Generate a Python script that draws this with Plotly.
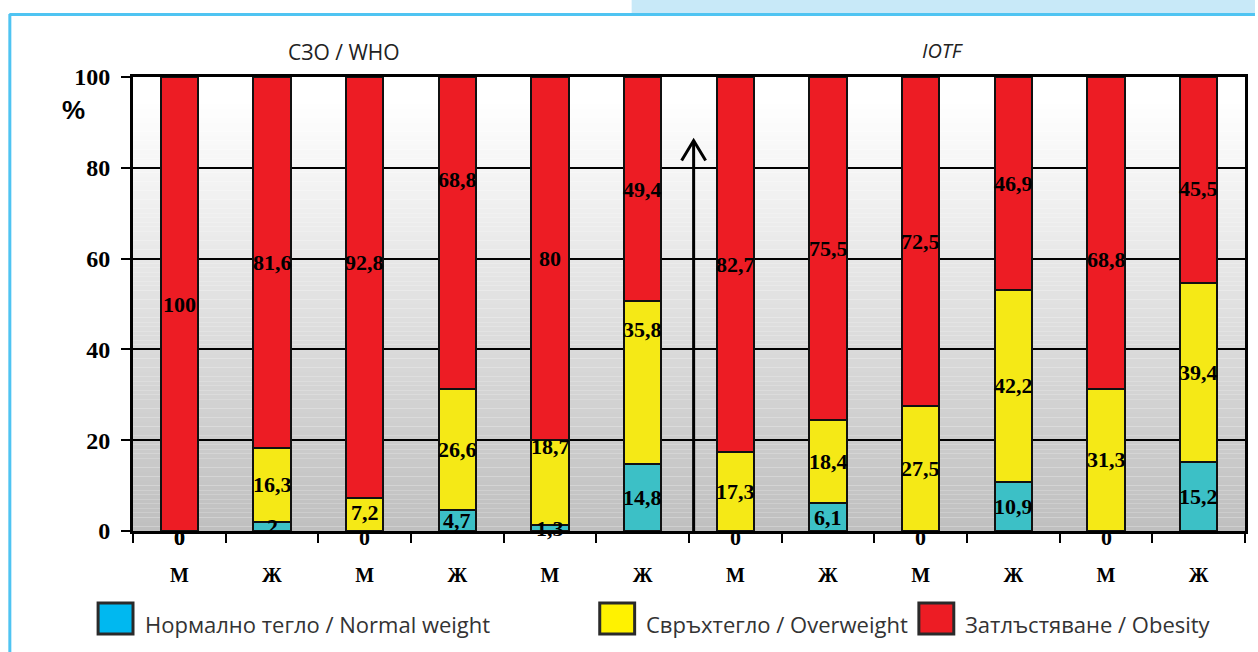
import plotly.graph_objects as go

# Sex categories for each column (WHO block, then IOTF block)
categories = ["М", "Ж", "М", "Ж", "М", "Ж", "М", "Ж", "М", "Ж", "М", "Ж"]

# Percentages per column
normal_weight = [0, 2, 0, 4.7, 1.3, 14.8, 0, 6.1, 0, 10.9, 0, 15.2]
overweight = [0, 16.3, 7.2, 26.6, 18.7, 35.8, 17.3, 18.4, 27.5, 42.2, 31.3, 39.4]
obesity = [100, 81.6, 92.8, 68.8, 80, 49.4, 82.7, 75.5, 72.5, 46.9, 68.8, 45.5]

y_ticks = [0, 20, 40, 60, 80, 100]

series_names = [
    "Нормално тегло / Normal weight",
    "Свръхтегло / Overweight",
    "Затлъстяване / Obesity",
]

BAR_COLORS = ["#3cc0c6", "#f5e916", "#ed1c24"]
LEGEND_COLORS = ["#00b8f0", "#fff200", "#ed1c24"]
SERIF = "Liberation Serif"
SANS = "Open Sans"

x = list(range(len(categories)))
series = [normal_weight, overweight, obesity]

fig = go.Figure()
for name, vals, col in zip(series_names, series, BAR_COLORS):
    fig.add_trace(go.Bar(
        x=x, y=vals, name=name, width=0.4,
        marker=dict(color=col, line=dict(color="#111111", width=2)),
        showlegend=False, hoverinfo="skip",
    ))

# Label nudges in pixels (series index, column) for a few hand-placed labels
nudges = {(2, 2): 25, (2, 3): 53, (1, 5): 53, (1, 4): 36, (2, 10): -27, (2, 11): -9,
          (1, 2): 2}

def fmt(v):
    return f"{v:g}".replace(".", ",")

base = [0.0] * len(x)
annotations = []
for si, vals in enumerate(series):
    for i, v in enumerate(vals):
        mid = base[i] + v / 2.0
        shift = nudges.get((si, i), 0)
        if v == 0:
            shift = -6
        annotations.append(dict(
            x=i, y=mid, xref="x", yref="y", text=f"<b>{fmt(v)}</b>", showarrow=False,
            yshift=shift, font=dict(family=SERIF, size=22, color="#000000"),
        ))
        base[i] += v

# Gradient plot background built from thin horizontal bands
shapes = []
n_bands = 100
for k in range(n_bands):
    y0 = 100 * k / n_bands
    y1 = 100 * (k + 1) / n_bands
    t = (y0 + y1) / 2 / 100
    frac = max(0.0, min(1.0, (0.95 - t) / 0.95))
    g = int(round(255 - (255 - 191) * frac))
    shapes.append(dict(type="rect", xref="paper", yref="y", x0=0, x1=1, y0=y0, y1=y1,
                       fillcolor=f"rgb({g},{g},{g})", line=dict(width=0), layer="below"))

# Divider arrow between the two classification blocks
shapes.append(dict(type="line", xref="x", yref="y", x0=5.55, x1=5.55, y0=0, y1=86,
                   line=dict(color="#000000", width=3)))
shapes.append(dict(type="path", xref="x", yref="y", xsizemode="pixel", ysizemode="pixel",
                   xanchor=5.55, yanchor=86, path="M -12,-20 L 0,0 L 12,-20",
                   line=dict(color="#000000", width=3)))

# Page geometry helpers (pixel -> paper)
W, H = 1258, 652
ML, MR, MT, MB = 133, 10, 77, 121
PW, PH = W - ML - MR, H - MT - MB

def px_x(p):
    return (p - ML) / PW

def px_y(p):
    return (H - MB - p) / PH

# Page frame and header tab
frame = [
    dict(type="rect", xref="paper", yref="paper", x0=px_x(633), x1=px_x(1258),
         y0=px_y(14), y1=px_y(0), fillcolor="#c8e9f8", line=dict(width=0)),
    dict(type="line", xref="paper", yref="paper", x0=px_x(9), x1=px_x(1258),
         y0=px_y(14.5), y1=px_y(14.5), line=dict(color="#4fc4f2", width=3)),
    dict(type="line", xref="paper", yref="paper", x0=px_x(9.5), x1=px_x(9.5),
         y0=px_y(652), y1=px_y(14), line=dict(color="#4fc4f2", width=3)),
]

# Legend drawn as boxes with captions
legend_items = [(97, 143), (600, 645), (920, 965)]
legend_shapes = []
for (bx, tx), col, name in zip(legend_items, LEGEND_COLORS, series_names):
    legend_shapes.append(dict(type="rect", xref="paper", yref="paper",
                              x0=px_x(bx + 1), x1=px_x(bx + 36), y0=px_y(634), y1=px_y(603),
                              fillcolor=col, line=dict(color="#2a2a2a", width=3)))
    annotations.append(dict(xref="paper", yref="paper", x=px_x(tx), y=px_y(624),
                            xanchor="left", yanchor="middle", text=name, showarrow=False,
                            font=dict(family=SANS, size=22, color="#333333")))

# Block titles and axis unit
annotations.append(dict(xref="paper", yref="paper", x=px_x(345), y=px_y(52),
                        xanchor="center", yanchor="middle",
                        text="СЗО / WHO", showarrow=False,
                        font=dict(family=SANS, size=21, color="#222222")))
annotations.append(dict(xref="paper", yref="paper", x=px_x(945), y=px_y(50),
                        xanchor="center", yanchor="middle",
                        text="<i>IOTF</i>", showarrow=False,
                        font=dict(family=SANS, size=20, color="#222222")))
annotations.append(dict(xref="paper", yref="paper", x=px_x(73), y=px_y(110),
                        xanchor="center", yanchor="middle",
                        text="<b>%</b>", showarrow=False,
                        font=dict(family="Liberation Sans", size=26, color="#000000")))

fig.update_layout(
    shapes=shapes + frame + legend_shapes,
    annotations=annotations,
    barmode="stack",
    width=W, height=H,
    margin=dict(l=ML, r=MR, t=MT, b=MB, pad=0),
    paper_bgcolor="#ffffff",
    plot_bgcolor="#ffffff",
    showlegend=False,
    xaxis=dict(
        range=[-0.5, 11.5], tickvals=x, ticktext=[f"<b>{c}</b>" for c in categories],
        ticks="", showgrid=False, zeroline=False,
        showline=True, linecolor="#000000", linewidth=3, mirror=True,
        tickfont=dict(family=SERIF, size=20, color="#000000"),
        ticklabelstandoff=24,
        minor=dict(tick0=-0.5, dtick=1, ticks="outside", ticklen=9, tickwidth=2,
                   tickcolor="#000000", showgrid=False),
    ),
    yaxis=dict(
        range=[0, 100], tickvals=y_ticks, ticktext=[f"<b>{v}</b>" for v in y_ticks],
        ticks="outside", ticklen=9, tickwidth=2, tickcolor="#000000",
        showgrid=True, gridcolor="#000000", gridwidth=2, zeroline=False,
        showline=True, linecolor="#000000", linewidth=3, mirror=True,
        tickfont=dict(family=SERIF, size=24, color="#000000"),
        ticklabelstandoff=6,
    ),
)

fig.write_html("out.html")
